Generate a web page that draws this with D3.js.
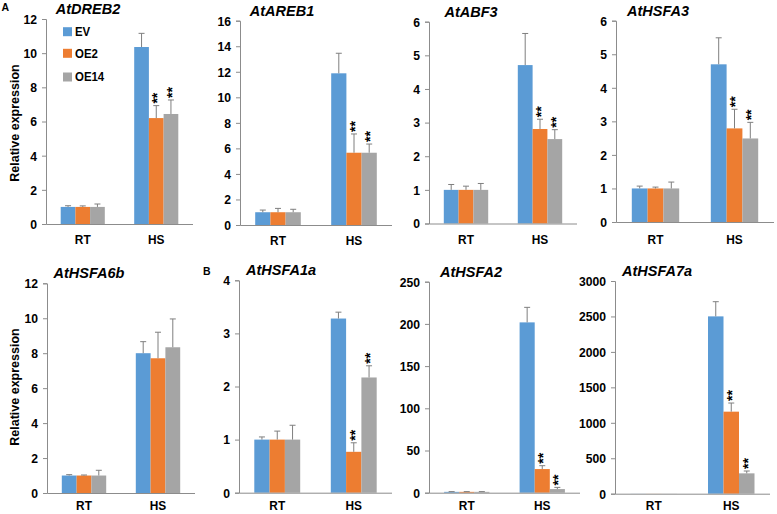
<!DOCTYPE html>
<html>
<head>
<meta charset="utf-8">
<script src="https://cdn.jsdelivr.net/npm/d3@7"></script>
<style>
  html, body { margin: 0; padding: 0; background: #fff; }
  svg { display: block; font-family: "Liberation Sans", Arial, sans-serif; }
</style>
</head>
<body>
<svg id="chart" width="777" height="514"></svg>
<script>
// ---------------- DATA ----------------
const categories = ["RT", "HS"];
const seriesNames = ["EV", "OE2", "OE14"];
const genes = ["AtDREB2", "AtAREB1", "AtABF3", "AtHSFA3", "AtHSFA6b", "AtHSFA1a", "AtHSFA2", "AtHSFA7a"];
const yMaxes = [12, 16, 6, 6, 12, 4, 250, 3000];
const yTickSteps = [2, 2, 1, 1, 2, 1, 50, 500];

// means: [category][series]
const meanDREB2  = [[1, 1, 1], [10.36, 6.2, 6.44]];
const errDREB2   = [[0.07, 0.06, 0.17], [0.8, 0.73, 0.82]];
const meanAREB1  = [[1, 1, 1], [11.88, 5.66, 5.66]];
const errAREB1   = [[0.17, 0.3, 0.23], [1.57, 1.47, 0.68]];
const meanABF3   = [[1, 1, 1], [4.71, 2.81, 2.51]];
const errABF3    = [[0.16, 0.11, 0.19], [0.94, 0.29, 0.28]];
const meanHSFA3  = [[1, 1, 1], [4.70, 2.79, 2.49]];
const errHSFA3   = [[0.07, 0.04, 0.19], [0.79, 0.57, 0.48]];
const meanHSFA6b = [[1, 1, 1], [8.0, 7.71, 8.34]];
const errHSFA6b  = [[0.05, 0.03, 0.3], [0.66, 1.49, 1.62]];
const meanHSFA1a = [[1, 1, 1], [3.28, 0.77, 2.17]];
const errHSFA1a  = [[0.05, 0.16, 0.27], [0.12, 0.17, 0.22]];
const meanHSFA2  = [[1, 1, 1], [201.8, 28, 4.3]];
const errHSFA2   = [[0.3, 0.3, 0.3], [17.8, 4, 2]];
const meanHSFA7a = [[1, 1, 1], [2501, 1157, 287]];
const errHSFA7a  = [[0, 0, 0], [207, 122, 33]];

// significance markers ("**") for HS group, per series
const sigHS = [[0,1,1],[0,1,1],[0,1,1],[0,1,1],[0,0,0],[0,1,1],[0,1,1],[0,1,1]];

const allMeans = [meanDREB2, meanAREB1, meanABF3, meanHSFA3, meanHSFA6b, meanHSFA1a, meanHSFA2, meanHSFA7a];
const allErrs  = [errDREB2, errAREB1, errABF3, errHSFA3, errHSFA6b, errHSFA1a, errHSFA2, errHSFA7a];

// ---------------- LAYOUT / STYLE ----------------
const seriesColors = ["#5B9BD5", "#ED7D31", "#A5A5A5"];
const axisColor = "#8c8c8c";
const errColor = "#7f7f7f";
const squeeze = 0.88;
const panels = [
  { x: 46,    top: 19,    bottom: 224,   w: 147, lab: 15.5 },
  { x: 240,   top: 20.7,  bottom: 225,   w: 152, lab: 15 },
  { x: 429,   top: 21.7,  bottom: 223.5, w: 148, lab: 15.5 },
  { x: 616,   top: 20.7,  bottom: 222,   w: 158, lab: 17 },
  { x: 46.7,  top: 283.3, bottom: 493,   w: 148, lab: 12.5 },
  { x: 239.3, top: 280.3, bottom: 492.7, w: 153, lab: 12.5 },
  { x: 429,   top: 281.7, bottom: 492.7, w: 151, lab: 12.5 },
  { x: 615,   top: 281,   bottom: 493.7, w: 155, lab: 12 }
];

const svg = d3.select("#chart");

function sqText(sel, x, y) {
  return sel.attr("transform", `translate(${x},${y}) scale(${squeeze},1)`);
}

genes.forEach((gene, gi) => {
  const p = panels[gi];
  const g = svg.append("g").attr("transform", `translate(${Math.round(p.x)},0)`);
  const y = d3.scaleLinear().domain([0, yMaxes[gi]]).range([p.bottom, p.top]);
  const x0 = d3.scaleBand().domain(categories).range([0, p.w]).padding(0);
  const x1 = d3.scaleBand().domain(seriesNames).range([0, x0.bandwidth() * 0.6]).padding(0);
  const groupOffset = x0.bandwidth() * 0.2;

  // bars
  categories.forEach((cat, ci) => {
    seriesNames.forEach((s, si) => {
      const v = allMeans[gi][ci][si];
      const e = allErrs[gi][ci][si];
      const bx = x0(cat) + groupOffset + x1(s);
      const bw = x1.bandwidth();
      g.append("rect")
        .attr("x", bx).attr("y", y(v))
        .attr("width", bw).attr("height", Math.max(0, y(0) - y(v)))
        .attr("fill", seriesColors[si]);
      const cx = bx + bw / 2;
      if (e > 0) {
        g.append("line").attr("x1", cx).attr("x2", cx)
          .attr("y1", y(v)).attr("y2", y(v + e))
          .attr("stroke", errColor).attr("stroke-width", 1);
        g.append("line").attr("x1", cx - 3).attr("x2", cx + 3)
          .attr("y1", y(v + e)).attr("y2", y(v + e))
          .attr("stroke", errColor).attr("stroke-width", 1);
      }
      if (cat === "HS" && sigHS[gi][si]) {
        g.append("text")
          .attr("transform", `translate(${cx},${y(v + e) - 2}) rotate(-90)`)
          .attr("dy", "0.42em")
          .attr("text-anchor", "start")
          .attr("font-size", 14).attr("font-weight", "bold")
          .attr("fill", "#000")
          .text("**");
      }
    });
  });

  // y axis
  const ticks = d3.range(0, yMaxes[gi] + yTickSteps[gi] / 2, yTickSteps[gi]);
  const yAxis = d3.axisLeft(y).tickValues(ticks).tickSize(4).tickPadding(5).tickFormat(d3.format("d"));
  const ya = g.append("g").call(yAxis);
  ya.attr("font-family", null).attr("font-size", null);
  ya.select(".domain").attr("stroke", axisColor);
  ya.selectAll(".tick line").attr("stroke", axisColor);
  ya.selectAll(".tick text")
    .style("font-family", "'Liberation Sans', Arial, sans-serif")
    .style("font-weight", "700")
    .style("font-size", "13.5px")
    .style("fill", "#000")
    .attr("transform", `translate(-9,0) scale(0.9,1) translate(9,0)`);

  // x axis (no ticks)
  const xAxis = d3.axisBottom(x0).tickSize(0).tickPadding(0);
  const xa = g.append("g").attr("transform", `translate(0,${y(0)})`).call(xAxis);
  xa.select(".domain").attr("stroke", axisColor).attr("d", `M0.5,0.5H${p.w}`);
  xa.selectAll(".tick text").remove();
  categories.forEach(cat => {
    g.append("text")
      .call(sqText, x0(cat) + x0.bandwidth() / 2, y(0) + p.lab)
      .attr("text-anchor", "middle").attr("dominant-baseline", "central")
      .attr("font-size", 13.5).attr("font-weight", "bold").attr("fill", "#000")
      .text(cat);
  });

  // title
  g.append("text")
    .attr("x", 42).attr("y", p.top - 10)
    .attr("text-anchor", "middle").attr("dominant-baseline", "central")
    .attr("font-size", 14.5).attr("font-weight", "bold").attr("font-style", "italic")
    .attr("fill", "#000")
    .text(gene);
});

// Y-axis titles
[123, 387].forEach(cy => {
  svg.append("text")
    .attr("transform", `translate(15,${cy}) rotate(-90)`)
    .attr("text-anchor", "middle").attr("dominant-baseline", "central")
    .attr("font-size", 12.5).attr("font-weight", "bold").attr("fill", "#000")
    .text("Relative expression");
});

// Panel letters
svg.append("text").attr("x", 1.5).attr("y", 7).attr("dominant-baseline", "central")
  .attr("font-size", 10.5).attr("font-weight", "bold").text("A");
svg.append("text").attr("x", 203).attr("y", 271).attr("dominant-baseline", "central")
  .attr("font-size", 10.5).attr("font-weight", "bold").text("B");

// Legend (in first panel)
const legendY = [31.7, 53.3, 77];
const legend = svg.append("g");
seriesNames.forEach((s, i) => {
  legend.append("rect").attr("x", 63).attr("y", legendY[i] - 4.5)
    .attr("width", 9).attr("height", 9).attr("fill", seriesColors[i]);
  legend.append("text")
    .call(sqText, 75, legendY[i])
    .attr("dominant-baseline", "central")
    .attr("font-size", 13).attr("font-weight", "bold").attr("fill", "#000")
    .text(s);
});
</script>
</body>
</html>
